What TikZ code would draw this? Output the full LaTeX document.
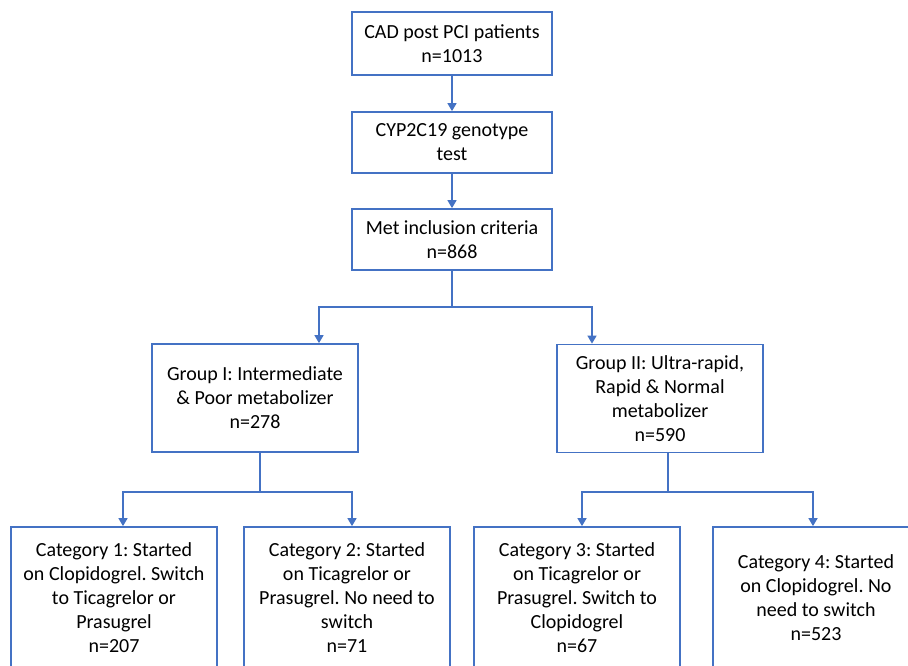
\documentclass[tikz,border=0pt]{standalone}
\usepackage{fontspec}
\setmainfont{Carlito}
\usetikzlibrary{positioning,arrows.meta}
\definecolor{flowblue}{HTML}{4472C4}

\begin{document}
\frenchspacing
\begin{tikzpicture}[x=1pt,y=1pt,
	>={Triangle[width=9pt,length=8pt]},
	box/.style = {draw=flowblue, line width=1.8pt, align=center, inner sep=0pt,
		font=\fontsize{20}{24}\selectfont},
	small/.style = {box, minimum width=200pt},
	grp/.style = {box, minimum width=206pt, minimum height=108pt},
	cat/.style = {box, minimum width=206pt, minimum height=142pt},
	link/.style = {flowblue, line width=1.6pt}]
	\path[use as bounding box, clip] (0,0) rectangle (908,-665);
	\fill[white] (0,0) rectangle (908,-665);
	% top column
	\node[small, minimum height=63pt] (cad) at (452,-43.5) {CAD post PCI patients\\n=1013};
	\node[small, minimum height=61pt] (geno) at (452,-142.5) {CYP2C19 genotype\\test};
	\node[small, minimum height=61pt] (incl) at (452,-239.5) {Met inclusion criteria\\n=868};
	% groups
	\node[grp] (g1) at (255,-398) {Group I: Intermediate\\\& Poor metabolizer\\n=278};
	\node[grp] (g2) at (660,-398.5) {Group II: Ultra-rapid,\\Rapid \& Normal\\metabolizer\\n=590};
	% categories
	\node[cat] (c1) at (114,-598) {Category 1: Started\\on Clopidogrel. Switch\\to Ticagrelor or\\Prasugrel\\n=207};
	\node[cat] (c2) at (347,-598) {Category 2: Started\\on Ticagrelor or\\Prasugrel. No need to\\switch\\n=71};
	\node[cat] (c3) at (577,-598) {Category 3: Started\\on Ticagrelor or\\Prasugrel. Switch to\\Clopidogrel\\n=67};
	\node[cat] (c4) at (816,-598) {Category 4: Started\\on Clopidogrel. No\\need to switch\\n=523};
	% connectors
	\draw[link,->] (cad) -- (geno);
	\draw[link,->] (geno) -- (incl);
	\coordinate (j0) at (452,-307);
	\coordinate (j1) at (260,-492);
	\coordinate (j2) at (668,-492);
	\draw[link] (incl) -- (j0);
	\draw[link,->] (j0) -| ([xshift=64pt]g1.north);
	\draw[link,->] (j0) -| ([xshift=-68pt]g2.north);
	\draw[link] ([xshift=5pt]g1.south) -- (j1);
	\draw[link,->] (j1) -| ([xshift=9pt]c1.north);
	\draw[link,->] (j1) -| ([xshift=5pt]c2.north);
	\draw[link] ([xshift=8pt]g2.south) -- (j2);
	\draw[link,->] (j2) -| ([xshift=5pt]c3.north);
	\draw[link,->] (j2) -| ([xshift=-3pt]c4.north);
\end{tikzpicture}
\end{document}
